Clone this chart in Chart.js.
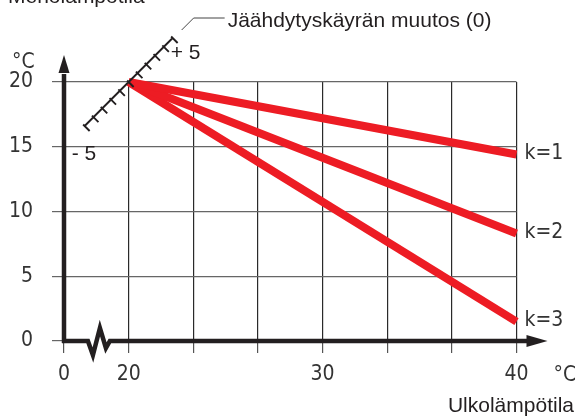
<!DOCTYPE html>
<html>
<head>
<meta charset="utf-8">
<script src="https://cdn.jsdelivr.net/npm/chart.js@4.4.1/dist/chart.umd.min.js"></script>
<style>
    body { margin: 0; background: #fff; }
    #wrap { width: 575px; height: 416px; position: relative; }
</style>
</head>
<body>
<div id="wrap"><canvas id="chart"></canvas></div>
<script>
// outdoor temperatures (x) and supply temperatures for each curve (y)
const outdoorTemps = [20, 40];
const curveK1 = [20, 14.4];
const curveK2 = [20, 8.3];
const curveK3 = [20, 1.5];
const curveNames = ['k=1', 'k=2', 'k=3'];
const xTickValues = [0, 20, 30, 40];
const yTickValues = [0, 5, 10, 15, 20];
const shiftLabels = ['- 5', '+ 5'];

const narrowFont = "'Liberation Sans Narrow', 'DejaVu Sans Condensed', 'Roboto Condensed', sans-serif";
const plainFont = "'Liberation Sans', Arial, sans-serif";
const ink = '#231f20';
const red = '#ed1c24';

// the x axis is broken: 0..20 squeezed into one grid cell, then 3 cells per 10 degrees
function toGrid(t) {
    return t <= 20 ? t / 20 : 1 + (t - 20) * 0.3;
}

function curveData(values) {
    return outdoorTemps.map((t, i) => ({ x: toGrid(t), y: values[i] }));
}

const decorations = {
    id: 'decorations',
    afterDraw(chart) {
        const ctx = chart.ctx;
        const xs = chart.scales.x;
        const ys = chart.scales.y;
        const area = chart.chartArea;
        const x0 = xs.getPixelForValue(0);
        const y0 = ys.getPixelForValue(0);
        const yTop = ys.getPixelForValue(20);
        const bA = xs.getPixelForValue(0.37);
        const bB = xs.getPixelForValue(0.71);

        ctx.save();
        // gap for the axis break
        ctx.fillStyle = '#fff';
        ctx.fillRect(bA, y0 - 3, bB - bA, 6);

        ctx.strokeStyle = ink;
        ctx.fillStyle = ink;
        ctx.lineWidth = 4.5;
        ctx.lineJoin = 'miter';

        // y axis + arrow
        ctx.beginPath();
        ctx.moveTo(x0, y0 + 2);
        ctx.lineTo(x0, yTop - 8);
        ctx.stroke();
        ctx.beginPath();
        ctx.moveTo(x0, yTop - 27);
        ctx.lineTo(x0 - 5.5, yTop - 9);
        ctx.lineTo(x0 + 5.5, yTop - 9);
        ctx.closePath();
        ctx.fill();

        // x axis with zigzag break + arrow
        const xEnd = area.right + 11;
        ctx.beginPath();
        ctx.moveTo(x0 - 2, y0);
        ctx.lineTo(bA, y0);
        ctx.lineTo(bA + 5, y0 + 14);
        ctx.lineTo(bA + 12, y0 - 13);
        ctx.lineTo(bA + 18, y0 + 7);
        ctx.lineTo(bB, y0);
        ctx.lineTo(xEnd, y0);
        ctx.stroke();
        ctx.beginPath();
        ctx.moveTo(xEnd + 20, y0);
        ctx.lineTo(xEnd - 1, y0 - 6);
        ctx.lineTo(xEnd - 1, y0 + 6);
        ctx.closePath();
        ctx.fill();

        // curve shift scale through the common start point
        const cx = xs.getPixelForValue(toGrid(outdoorTemps[0]));
        const cy = ys.getPixelForValue(curveK1[0]);
        const step = 8.8;
        ctx.lineWidth = 1.9;
        ctx.beginPath();
        ctx.moveTo(cx - 5 * step, cy + 5 * step);
        ctx.lineTo(cx + 5 * step, cy - 5 * step);
        for (let i = -5; i <= 5; i++) {
            const px = cx + i * step;
            const py = cy - i * step;
            ctx.moveTo(px - 1.5, py - 1.5);
            ctx.lineTo(px + 5, py + 5);
        }
        ctx.stroke();

        // leader line to the caption
        ctx.lineWidth = 1;
        ctx.strokeStyle = '#444';
        ctx.beginPath();
        ctx.moveTo(cx + 53, cy - 52);
        ctx.lineTo(cx + 65, cy - 64);
        ctx.lineTo(cx + 96, cy - 64);
        ctx.stroke();

        ctx.font = '21px ' + plainFont;
        ctx.textBaseline = 'alphabetic';
        ctx.textAlign = 'left';
        ctx.fillText('Jäähdytyskäyrän muutos (0)', cx + 99, cy - 55);
        ctx.fillText(shiftLabels[1], cx + 42, cy - 23);
        ctx.fillText(shiftLabels[0], cx - 57, cy + 78);
        ctx.fillText('Menolämpötila', 8, 3);
        ctx.textAlign = 'right';
        ctx.fillText('Ulkolämpötila', 574, 412);

        // units and curve names
        ctx.fillStyle = '#333';
        ctx.font = '21px ' + narrowFont;
        ctx.textAlign = 'left';
        ctx.fillText('°C', 12, yTop - 14);
        ctx.fillText('°C', area.right + 37, 381);
        ctx.textBaseline = 'middle';
        curveNames.forEach((name, i) => {
            const meta = chart.getDatasetMeta(i);
            const last = meta.data[meta.data.length - 1];
            ctx.fillText(name, last.x + 8, last.y - 1);
        });
        ctx.restore();
    }
};

const curves = [curveK1, curveK2, curveK3];

new Chart(document.getElementById('chart'), {
    type: 'line',
    data: {
        datasets: curves.map((c, i) => ({
            label: curveNames[i],
            data: curveData(c),
            borderColor: red,
            borderWidth: 8,
            borderCapStyle: 'butt',
            pointRadius: 0,
            clip: false,
        }))
    },
    options: {
        responsive: true,
        maintainAspectRatio: false,
        animation: false,
        events: [],
        layout: { padding: { top: 82, right: 58.5, left: 0, bottom: 0 } },
        plugins: { legend: { display: false }, tooltip: { enabled: false } },
        scales: {
            x: {
                type: 'linear',
                min: 0,
                max: 7,
                afterBuildTicks(axis) {
                    axis.ticks = [0, 1, 2, 3, 4, 5, 6, 7].map(v => ({ value: v }));
                },
                afterFit(scale) { scale.height = 75; },
                ticks: {
                    autoSkip: false,
                    maxRotation: 0,
                    padding: 9,
                    color: '#333',
                    font: { family: narrowFont, size: 21 },
                    callback(value) {
                        const t = xTickValues.find(v => Math.abs(toGrid(v) - value) < 1e-6);
                        return t === undefined ? '' : String(t);
                    }
                },
                grid: { color: '#2a2a2a', lineWidth: 1.2, tickLength: 12, tickColor: '#555' },
                border: { display: false }
            },
            y: {
                min: 0,
                max: 20,
                afterBuildTicks(axis) {
                    axis.ticks = yTickValues.map(v => ({ value: v }));
                },
                afterFit(scale) { scale.width = 64; },
                ticks: {
                    padding: 19,
                    color: '#333',
                    font: { family: narrowFont, size: 21 }
                },
                grid: { color: '#666', lineWidth: 1.2, tickLength: 12, tickColor: '#666' },
                border: { display: false }
            }
        }
    },
    plugins: [decorations]
});
</script>
</body>
</html>
